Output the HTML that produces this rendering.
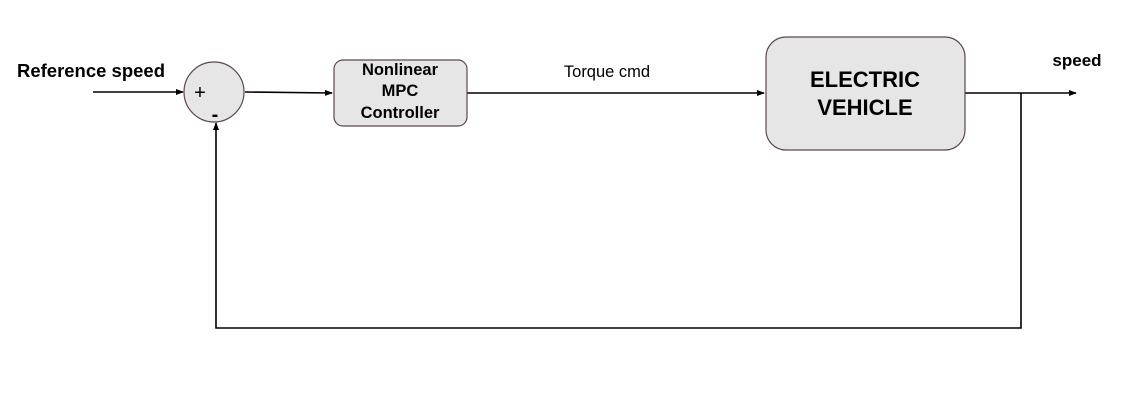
<!DOCTYPE html>
<html><head><style>body{margin:0;background:#fff}svg{display:block}text{font-family:"Liberation Sans",Arial,sans-serif}</style></head>
<body>
<svg width="1148" height="417" xmlns="http://www.w3.org/2000/svg">
<defs><marker id="a" markerWidth="8" markerHeight="8" refX="7" refY="4" orient="auto" markerUnits="userSpaceOnUse"><path d="M0,1 L8,4 L0,7 Z" fill="#000"/></marker></defs>
<g stroke="#000" stroke-width="1.6" fill="none">
<line x1="93" y1="92" x2="183" y2="92" marker-end="url(#a)"/>
<line x1="245" y1="92" x2="332" y2="93" marker-end="url(#a)"/>
<line x1="467" y1="93" x2="764" y2="93" marker-end="url(#a)"/>
<line x1="965" y1="93" x2="1076" y2="93" marker-end="url(#a)"/>
<polyline points="1021,93 1021,328 216,328 216,123" marker-end="url(#a)"/>
</g>
<circle cx="214" cy="92" r="30" fill="#e6e6e6" stroke="#5a4a48" stroke-width="1.2"/>
<rect x="334" y="60" width="133" height="66" rx="9" fill="#e6e6e6" stroke="#5a4a48" stroke-width="1.2"/>
<rect x="766" y="37" width="199" height="113" rx="20" fill="#e6e6e6" stroke="#5a4a48" stroke-width="1.2"/>
<g font-weight="bold" fill="#000" text-anchor="middle">
<text x="91" y="77" font-size="18" textLength="148" lengthAdjust="spacingAndGlyphs">Reference speed</text>
<text x="400" y="75" font-size="16.5">Nonlinear</text>
<text x="400" y="96" font-size="16.5">MPC</text>
<text x="400" y="118" font-size="16.5">Controller</text>
<text x="865" y="87" font-size="22">ELECTRIC</text>
<text x="865" y="115" font-size="22">VEHICLE</text>
<text x="1077" y="66" font-size="17">speed</text>
</g>
<text x="200" y="99" font-size="20" text-anchor="middle">+</text>
<text x="215" y="121" font-size="20" font-weight="bold" text-anchor="middle">-</text>
<text x="607" y="77" font-size="16.5" text-anchor="middle">Torque cmd</text>
</svg>
</body></html>
